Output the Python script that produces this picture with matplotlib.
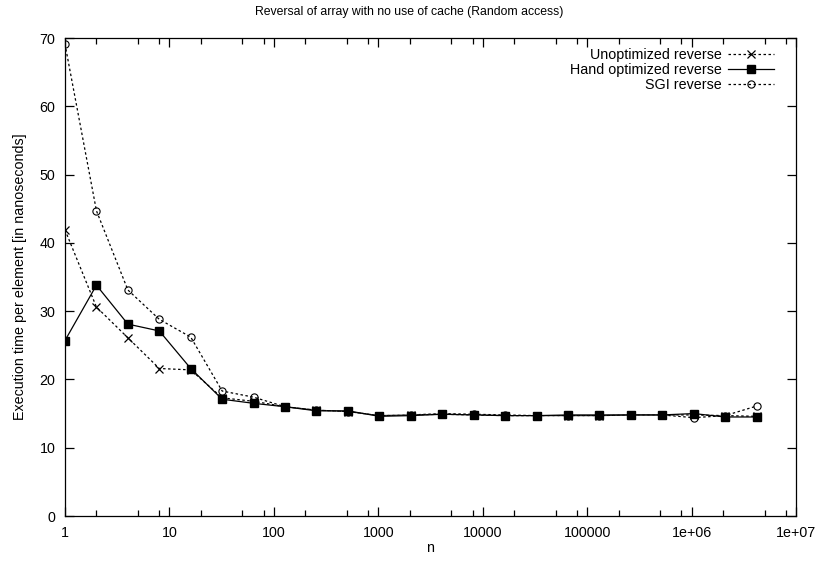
import matplotlib
matplotlib.use("Agg")
import matplotlib.pyplot as plt
from matplotlib.ticker import FixedLocator, FixedFormatter, LogLocator, NullFormatter

plt.rcParams['font.family'] = ['Liberation Sans', 'DejaVu Sans']
plt.rcParams['font.size'] = 10.3

# array sizes: powers of two from 1 to 2^22
n = [2 ** k for k in range(23)]

unoptimized = [41.9, 30.6, 26.1, 21.6, 21.4, 17.3, 16.8, 16.0, 15.5, 15.3,
               14.7, 14.8, 14.9, 14.8, 14.7, 14.7, 14.7, 14.7, 14.8, 14.8,
               14.8, 14.7, 14.6]
hand_optimized = [25.7, 33.8, 28.1, 27.1, 21.6, 17.1, 16.5, 16.0, 15.4, 15.4,
                  14.6, 14.7, 14.9, 14.8, 14.7, 14.7, 14.8, 14.8, 14.8, 14.8,
                  15.0, 14.5, 14.5]
sgi = [69.1, 44.7, 33.1, 28.8, 26.2, 18.3, 17.4, 16.0, 15.5, 15.3,
       14.7, 14.8, 15.0, 14.9, 14.8, 14.7, 14.7, 14.7, 14.8, 14.8,
       14.4, 14.7, 16.1]

xticks = [1, 10, 100, 1000, 10000, 100000, 1e6, 1e7]
xticklabels = ["1", "10", "100", "1000", "10000", "100000", "1e+06", "1e+07"]

W, H = 819, 567
fig = plt.figure(figsize=(W / 100, H / 100), dpi=100)
# plot box in pixels: left 65, right 796, top 38, bottom 516
ax = fig.add_axes([65 / W, 1 - 516 / H, (796 - 65) / W, (516 - 38) / H])

dots = (0, (2, 2))
ax.plot(n, unoptimized, color="black", lw=0.9, ls=dots, marker="x", ms=5.5,
        mew=0.9, label="Unoptimized reverse")
ax.plot(n, hand_optimized, color="black", lw=0.9, ls="-", marker="s", ms=6,
        label="Hand optimized reverse")
ax.plot(n, sgi, color="black", lw=0.9, ls=dots, marker="o", ms=5.2, mfc="none",
        mew=0.8, label="SGI reverse")

ax.set_xscale("log")
ax.set_xlim(1, 1e7)
ax.set_ylim(0, 70)
ax.xaxis.set_major_locator(FixedLocator(xticks))
ax.xaxis.set_major_formatter(FixedFormatter(xticklabels))
ax.xaxis.set_minor_locator(LogLocator(base=10, subs=(2, 5, 8), numticks=20))
ax.xaxis.set_minor_formatter(NullFormatter())
ax.set_yticks(range(0, 71, 10))

ax.tick_params(which="both", direction="in", top=True, right=True, width=0.9)
ax.tick_params(which="major", length=6.5, pad=7)
ax.tick_params(which="minor", length=4)
for s in ax.spines.values():
    s.set_linewidth(0.9)

# title centred on the whole figure rather than the plot box
fig.text(0.5, 1 - 12 / H, "Reversal of array with no use of cache (Random access)",
         fontsize=8.8, ha="center", va="center")
ax.set_xlabel("n", labelpad=1)
ax.set_ylabel("Execution time per element [in nanoseconds]", labelpad=9)

ax.legend(loc="upper right", frameon=False, markerfirst=False,
          bbox_to_anchor=((777 - 65 + 8) / 731, 1.004),
          handlelength=3.2, borderaxespad=0.4, borderpad=0.4,
          labelspacing=0.1, handletextpad=0.4)

fig.savefig("out.png", dpi=100)
